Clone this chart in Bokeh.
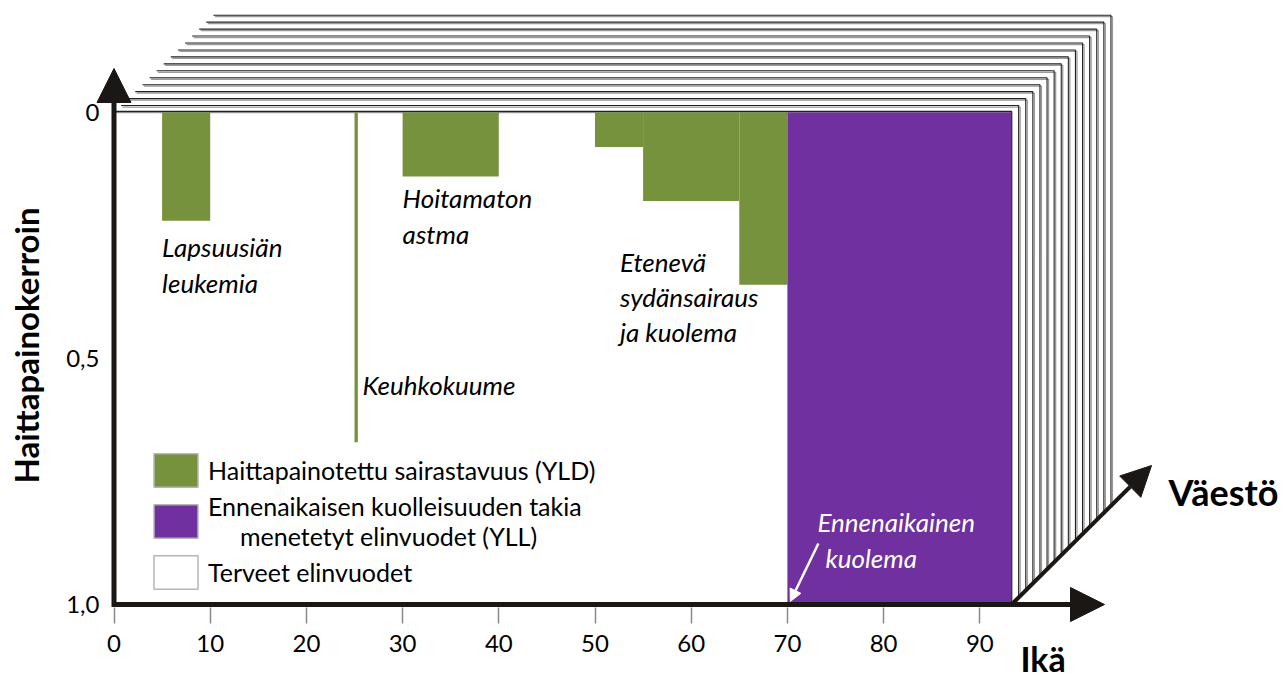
import math
from bokeh.plotting import figure
from bokeh.models import (Range1d, FixedTicker, Label, Arrow, NormalHead,
                          Legend, LegendItem, LinearAxis)
from bokeh.embed import file_html
from bokeh.resources import INLINE

# ---------------- data ----------------
yld_age_start = [5, 25, 30, 50, 55, 65]
yld_age_end = [10, 25.35, 40, 55, 65, 70]
yld_weight = [0.22, 0.67, 0.13, 0.07, 0.18, 0.35]
yll_age_start = [70]
yll_age_end = [93.3]
yll_weight = [1.0]
life_end_age = 93.3
population_layers = 15
age_ticks = [0, 10, 20, 30, 40, 50, 60, 70, 80, 90]
weight_ticks = [0, 0.5, 1.0]
weight_tick_labels = ["0", "0,5", "1,0"]
legend_labels = ["Haittapainotettu sairastavuus (YLD)",
                 "Ennenaikaisen kuolleisuuden takia\n\u00a0\u00a0\u00a0\u00a0\u00a0menetetyt elinvuodet (YLL)",
                 "Terveet elinvuodet"]

GREEN = "#76923C"
PURPLE = "#7030A0"
DARK = "#1a1715"
FONT = "Lato"

# ---------------- layout (pixel scale of the drawing) ----------------
W, H = 1284, 678
X0, SX = 113.5, 9.62      # canvas x of age 0, px per year
Y0, SY = 112.0, 492.0     # canvas y of weight 0, px per unit weight
BASE_FIX = 11             # alphabetic baseline correction of the svg text


def ax(px):
    return (px - X0) / SX


def wy(py):
    return (py - Y0) / SY


p = figure(width=W, height=H, output_backend="svg", toolbar_location=None,
           x_range=Range1d(ax(0), ax(W)), y_range=Range1d(wy(H), wy(0)),
           x_axis_location=None, y_axis_location=None,
           min_border=0, min_border_left=0, min_border_right=0,
           min_border_top=0, min_border_bottom=0)
p.outline_line_color = None
p.grid.visible = False
p.background_fill_color = "white"
p.border_fill_color = "white"

# ---------------- axes (placed inside the frame) ----------------
xa = LinearAxis(fixed_location=wy(607), ticker=FixedTicker(ticks=age_ticks))
xa.axis_line_color = None
xa.major_tick_line_color = "#8a8a8a"
xa.major_tick_line_width = 1.5
xa.major_tick_in = 0
xa.major_tick_out = 16
xa.minor_tick_line_color = None
xa.major_label_text_font = FONT
xa.major_label_text_font_size = "24px"
xa.major_label_text_color = "black"
xa.major_label_standoff = 11
p.add_layout(xa, "below")

ya = LinearAxis(fixed_location=ax(101), ticker=FixedTicker(ticks=weight_ticks))
ya.major_label_overrides = {t: l for t, l in zip(weight_ticks, weight_tick_labels)}
ya.axis_line_color = None
ya.major_tick_line_color = None
ya.minor_tick_line_color = None
ya.major_tick_in = 0
ya.major_tick_out = 0
ya.major_label_text_font = FONT
ya.major_label_text_font_size = "24px"
ya.major_label_text_color = "black"
ya.major_label_standoff = 2
p.add_layout(ya, "left")

# ---------------- population layers (stacked frames) ----------------
da, dw = 7.1 / SX, 6.95 / SY
ga, gw = 1.5 / SX, 1.5 / SY
for k in range(population_layers - 1, 0, -1):
    left, right = 0 + k * da, life_end_age + k * da
    top, bottom = 0 - k * dw, 1.0 - k * dw
    p.quad(left=[left], right=[right], top=[top], bottom=[bottom],
           fill_color="white", line_color=None)
    p.line([left + ga, right + ga, right + ga], [top + gw, top + gw, bottom],
           line_color="#9a9a9a", line_width=1.3)
    p.line([left, right, right], [top, top, bottom], line_color="#222222",
           line_width=1.1)

# front (healthy years) area
healthy_r = p.quad(left=[0], right=[life_end_age], top=[0], bottom=[1.0],
                   fill_color="white", line_color="#b5b5b5", line_width=1.5)
p.line([0, life_end_age, life_end_age], [0 - 1 / SY, 0 - 1 / SY, 1.0],
       line_color="#222222", line_width=1.5)

# ---------------- bars ----------------
yld_r = p.quad(left=yld_age_start, right=yld_age_end, top=[0] * len(yld_weight),
               bottom=yld_weight, fill_color=GREEN, line_color=None)
yll_r = p.quad(left=yll_age_start, right=yll_age_end, top=[0] * len(yll_weight),
               bottom=yll_weight, fill_color=PURPLE, line_color=None)

# ---------------- axis arrows ----------------
p.add_layout(Arrow(x_start=0, y_start=1.0 + 2.5 / SY, x_end=0, y_end=wy(68),
                   line_width=5, line_color=DARK,
                   end=NormalHead(size=34, fill_color=DARK, line_color=DARK)))
p.add_layout(Arrow(x_start=0, y_start=1.0, x_end=ax(1104), y_end=1.0,
                   line_width=5, line_color=DARK,
                   end=NormalHead(size=34, fill_color=DARK, line_color=DARK)))
p.add_layout(Arrow(x_start=life_end_age, y_start=1.0,
                   x_end=life_end_age + 140 / SX, y_end=1.0 - 139 / SY,
                   line_width=4, line_color=DARK,
                   end=NormalHead(size=30, fill_color=DARK, line_color=DARK)))
# white arrow pointing to premature death
p.add_layout(Arrow(x_start=yll_age_start[0] + 31 / SX, y_start=wy(543),
                   x_end=yll_age_start[0] + 0.3, y_end=wy(601),
                   line_width=2.5, line_color="white",
                   end=NormalHead(size=12, fill_color="white", line_color="white")))


# ---------------- texts ----------------
def lab(x, ypx, text, size="26px", style="italic", color="black", xo=0, **kw):
    p.add_layout(Label(x=x, y=wy(ypx - BASE_FIX), text=text, x_offset=xo,
                       text_font=FONT, text_font_size=size,
                       text_font_style=style, text_color=color,
                       text_baseline="alphabetic", **kw))


lab(yld_age_start[0], 257, "Lapsuusiän")
lab(yld_age_start[0], 293, "leukemia")
lab(yld_age_start[1], 395, "Keuhkokuume", xo=8)
lab(yld_age_start[2], 208, "Hoitamaton")
lab(yld_age_start[2], 244, "astma")
lab(yld_age_start[3], 272, "Etenevä", xo=25)
lab(yld_age_start[3], 307, "sydänsairaus", xo=25)
lab(yld_age_start[3], 342, "ja kuolema", xo=25)
lab(yll_age_start[0], 532, "Ennenaikainen", color="white", xo=30)
lab(yll_age_start[0], 568, "kuolema", color="white", xo=38)

lab(ax(1020), 669, "Ikä", size="34px", style="bold")
lab(ax(1168), 502, "Väestö", size="36px", style="bold")
p.add_layout(Label(x=ax(25), y=wy(345), text="Haittapainokerroin", text_font=FONT,
                   text_font_size="33px", text_font_style="bold",
                   text_color="black", text_baseline="alphabetic",
                   text_align="center", angle=math.pi / 2))

# ---------------- legend ----------------
nan = float("nan")
lg_green = p.quad(left=[nan], right=[nan], top=[nan], bottom=[nan],
                  fill_color=GREEN, line_color="#b5b5b5", line_width=1.5)
lg_purple = p.quad(left=[nan], right=[nan], top=[nan], bottom=[nan],
                   fill_color=PURPLE, line_color="#b5b5b5", line_width=1.5)
legend = Legend(items=[LegendItem(label=legend_labels[0], renderers=[lg_green]),
                       LegendItem(label=legend_labels[1], renderers=[lg_purple]),
                       LegendItem(label=legend_labels[2], renderers=[healthy_r])],
                location=(148, H - 593), glyph_width=55, glyph_height=42,
                label_standoff=5, spacing=-4, padding=0, margin=0,
                border_line_color=None, background_fill_alpha=0,
                label_text_font=FONT, label_text_font_size="25px",
                label_text_line_height=1.32, label_text_color="black")
p.add_layout(legend, "center")

open("out.html", "w").write(file_html(p, INLINE))
